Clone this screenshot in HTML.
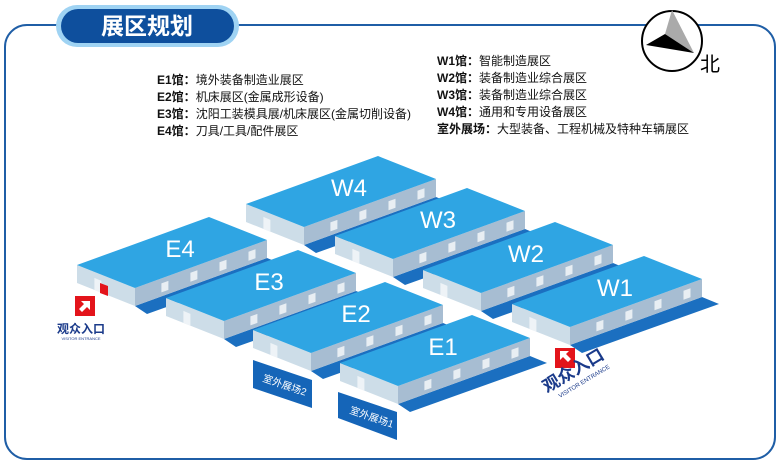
<!DOCTYPE html>
<html><head><meta charset="utf-8"><style>
html,body{margin:0;padding:0;background:#fff;}
body{width:782px;height:463px;overflow:hidden;position:relative;font-family:"Liberation Sans","Noto Sans CJK SC",sans-serif;}
</style></head><body>
<svg id="s" width="782" height="463" xmlns="http://www.w3.org/2000/svg" style="position:absolute;left:0;top:0">
<rect x="5" y="25" width="770" height="434" rx="22" ry="22" fill="#fff" stroke="#1f5ea6" stroke-width="2"/>
<rect x="56" y="5" width="183" height="42" rx="21" fill="#9fd3f3"/>
<rect x="61" y="9" width="173" height="34" rx="17" fill="#0e4f9d"/>
<text x="147" y="34" font-size="23" fill="#fff" text-anchor="middle" font-family="Liberation Sans,Noto Sans CJK SC,sans-serif" font-weight="bold">展区规划</text>
<circle cx="672" cy="41" r="30" fill="#fff" stroke="#000" stroke-width="2"/>
<polygon points="672,10 694,53 665,34" fill="#aaa"/>
<polygon points="646,45 665,34 694,53" fill="#000"/>
<text x="700" y="71" font-size="20" fill="#000" font-family="Noto Sans CJK SC,sans-serif">北</text>
<g font-size="12" fill="#111" font-family="Liberation Sans,Noto Sans CJK SC,sans-serif">
<text x="157" y="84"><tspan font-weight="bold">E1馆：</tspan>境外装备制造业展区</text>
<text x="157" y="101"><tspan font-weight="bold">E2馆：</tspan>机床展区(金属成形设备)</text>
<text x="157" y="118"><tspan font-weight="bold">E3馆：</tspan>沈阳工装模具展/机床展区(金属切削设备)</text>
<text x="157" y="135"><tspan font-weight="bold">E4馆：</tspan>刀具/工具/配件展区</text>
<text x="437" y="65"><tspan font-weight="bold">W1馆：</tspan>智能制造展区</text>
<text x="437" y="82"><tspan font-weight="bold">W2馆：</tspan>装备制造业综合展区</text>
<text x="437" y="99"><tspan font-weight="bold">W3馆：</tspan>装备制造业综合展区</text>
<text x="437" y="116"><tspan font-weight="bold">W4馆：</tspan>通用和专用设备展区</text>
<text x="437" y="133"><tspan font-weight="bold">室外展场：</tspan>大型装备、工程机械及特种车辆展区</text>
</g>
<g id="b"></g>
<polygon points="253,360 312,380 312,408 253,388" fill="#1565b8"/>
<text transform="translate(262,381) rotate(19)" font-size="10" fill="#fff">室外展场2</text>
<polygon points="338,392 397,412 397,440 338,418" fill="#1565b8"/>
<text transform="translate(349,413) rotate(19)" font-size="10" fill="#fff">室外展场1</text>
<rect x="75" y="296" width="20" height="20" fill="#e3141b"/>
<polygon points="90,301 90,310 87,307 82,312 79,309 84,304 81,301" fill="#fff"/>
<text x="81" y="333" font-size="12" font-weight="bold" fill="#1a3a8a" text-anchor="middle">观众入口</text>
<text x="81" y="340" font-size="4" fill="#1a3a8a" text-anchor="middle">VISITOR ENTRANCE</text>
<rect x="555" y="348" width="20" height="20" fill="#e3141b"/>
<polygon points="560,351 569,351 566,354 571,359 568,362 563,357 560,360" fill="#fff"/>
<text transform="translate(547,393) rotate(-31)" font-size="17" font-weight="bold" fill="#1a3a8a">观众入口</text>
<text transform="translate(560,398) rotate(-31)" font-size="6" fill="#1a3a8a">VISITOR ENTRANCE</text>
</svg>
<script>
var g=document.getElementById('b'),h=18,S=[58,23],G=[132,-48],out='';
function P(a){return a.map(function(p){return p[0].toFixed(1)+','+p[1].toFixed(1)}).join(' ')}
var B=[['W4',304,227],['W3',393,259],['W2',481,293],['W1',570,327],['E4',135,288],['E3',224,321],['E2',311,353],['E1',398,386]];
B.forEach(function(b){
 var F=[b[1],b[2]],L=[F[0]-S[0],F[1]-S[1]],R=[F[0]+G[0],F[1]+G[1]],K=[L[0]+G[0],L[1]+G[1]];
 var Fb=[F[0],F[1]+h],Rb=[R[0],R[1]+h],Lb=[L[0],L[1]+h];
 out+='<polygon points="'+P([Fb,Rb,[Rb[0]+17,Rb[1]+7],[Fb[0]+12,Fb[1]+8]])+'" fill="#1b6fc0"/>';
 out+='<polygon points="'+P([L,F,Fb,Lb])+'" fill="#cddde8"/>';
 out+='<polygon points="'+P([F,R,Rb,Fb])+'" fill="#a7bdd2"/>';
 out+='<polygon points="'+P([L,K,R,F])+'" fill="#2fa5e3"/>';
 var d=0.3; var dx=L[0]+S[0]*d, dy=L[1]+S[1]*d;
 out+='<polygon points="'+P([[dx,dy+6],[dx+7,dy+9],[dx+7,dy+h+3],[dx,dy+h]])+'" fill="#eef3f7"/>';
 [0.2,0.42,0.64,0.86].forEach(function(t){
  var x=F[0]+G[0]*t,y=F[1]+G[1]*t;
  out+='<polygon points="'+P([[x,y+5],[x+7,y+2.5],[x+7,y+11.5],[x,y+14]])+'" fill="#e8eef3"/>';
 });
 out+='<text x="'+(F[0]+45)+'" y="'+(F[1]-31)+'" font-size="24" fill="#fff" text-anchor="middle" font-family="Liberation Sans,sans-serif">'+b[0]+'</text>';
});
out+='<polygon points="100,283 108,286 108,296 100,293" fill="#e3141b"/>';
g.innerHTML=out;
</script>
</body></html>
